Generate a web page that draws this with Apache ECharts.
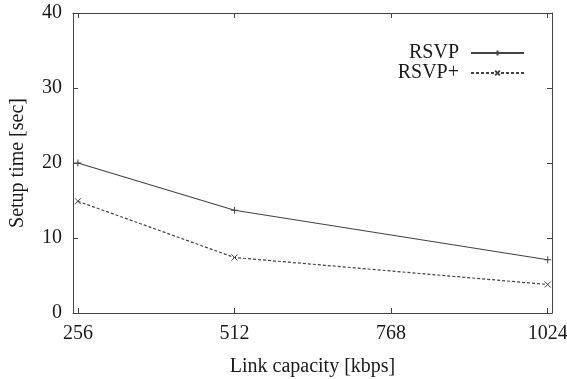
<!DOCTYPE html>
<html>
<head>
<meta charset="utf-8">
<script src="https://cdn.jsdelivr.net/npm/echarts@6/dist/echarts.min.js"></script>
<style>
  html, body { margin: 0; padding: 0; background: #fff; }
  #chart { width: 567px; height: 379px; }
</style>
</head>
<body>
<div id="chart"></div>
<script>
const linkCapacity = [256, 512, 1024]
const rsvp = [20.0, 13.7, 7.1]
const rsvpPlus = [14.9, 7.4, 3.8]
const xTicks = [256, 512, 768, 1024]
const yTicks = [0, 10, 20, 30, 40]

const ink = '#444'
const textInk = '#1a1a1a'
const serif = 'Liberation Serif'
const plusSymbol = 'path://M0,5L10,5M5,0L5,10'
const crossSymbol = 'path://M0,0L10,10M10,0L0,10'

const toPairs = (xs, ys) => xs.map((x, i) => [x, ys[i]])

const xBase = {
  type: 'value', min: 248, max: 1031,
  axisLine: { show: true, onZero: false, lineStyle: { color: ink, width: 1 } },
  axisTick: { show: true, inside: true, length: 5, customValues: xTicks, lineStyle: { color: ink } },
  splitLine: { show: false }
}
const yBase = {
  type: 'value', min: 0, max: 40, interval: 10,
  axisLine: { show: true, onZero: false, lineStyle: { color: ink, width: 1 } },
  axisTick: { show: true, inside: true, length: 5, lineStyle: { color: ink } },
  splitLine: { show: false }
}

const chart = echarts.init(document.getElementById('chart'))
chart.setOption({
  backgroundColor: '#fff',
  animation: false,
  textStyle: { fontFamily: serif, color: textInk },
  grid: { left: 73, right: 15, top: 13, bottom: 66, outerBoundsMode: 'none', containLabel: false },
  legend: {
    orient: 'vertical', right: 37, top: 38, align: 'right',
    itemWidth: 53, itemHeight: 6, itemGap: 0,
    textStyle: { fontFamily: serif, fontSize: 20, lineHeight: 19, color: textInk, padding: [0, 7, 0, 0] },
    data: ['RSVP', 'RSVP+']
  },
  xAxis: [
    Object.assign({}, xBase, {
      position: 'bottom',
      name: 'Link capacity [kbps]', nameLocation: 'middle', nameGap: 44,
      nameTextStyle: { fontFamily: serif, fontSize: 20, color: textInk },
      axisLabel: { customValues: xTicks, margin: 11, fontFamily: serif, fontSize: 20, color: textInk,
        formatter: v => String(v) }
    }),
    Object.assign({}, xBase, { position: 'top', axisLabel: { show: false } })
  ],
  yAxis: [
    Object.assign({}, yBase, {
      position: 'left',
      name: 'Setup time [sec]', nameLocation: 'middle', nameGap: 45,
      nameTextStyle: { fontFamily: serif, fontSize: 20, color: textInk },
      axisLabel: { margin: 11, fontFamily: serif, fontSize: 20, color: textInk,
        customValues: yTicks }
    }),
    Object.assign({}, yBase, { position: 'right', axisLabel: { show: false } })
  ],
  series: [
    {
      name: 'RSVP', type: 'line', data: toPairs(linkCapacity, rsvp),
      symbol: plusSymbol, symbolSize: 7,
      lineStyle: { color: ink, width: 1.2 },
      itemStyle: { color: 'none', borderColor: ink, borderWidth: 1 }
    },
    {
      name: 'RSVP+', type: 'line', data: toPairs(linkCapacity, rsvpPlus),
      symbol: crossSymbol, symbolSize: 6,
      lineStyle: { color: ink, width: 1.2, type: [3, 2] },
      itemStyle: { color: 'none', borderColor: ink, borderWidth: 1 }
    }
  ]
})
</script>
</body>
</html>
